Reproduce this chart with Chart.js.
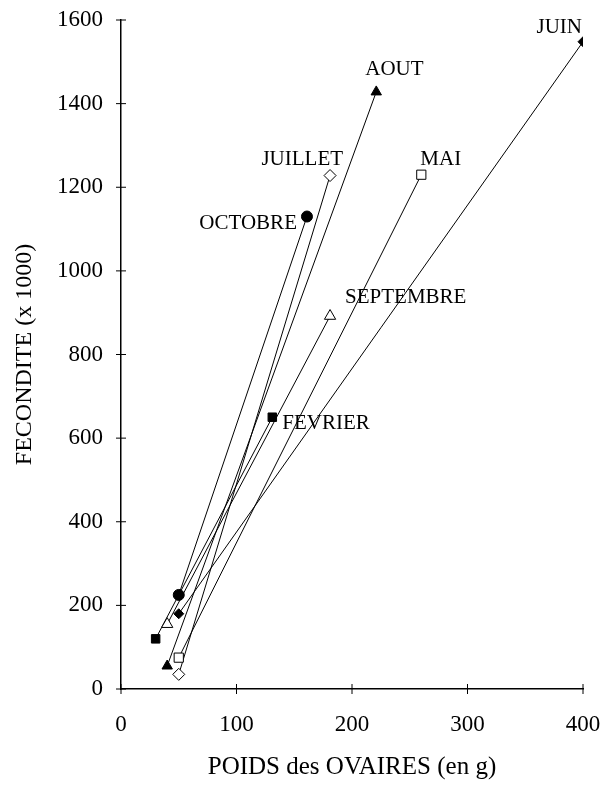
<!DOCTYPE html>
<html>
<head>
<meta charset="utf-8">
<script src="https://cdn.jsdelivr.net/npm/chart.js@4"></script>
<style>
  html, body { margin: 0; padding: 0; background: #fff; }
  #wrap { width: 610px; height: 786px; }
</style>
</head>
<body>
<div id="wrap"><canvas id="fecChart" width="610" height="786"></canvas></div>
<script>
// Fécondité vs poids des ovaires, one segment per month
const months = ['OCTOBRE', 'JUIN', 'SEPTEMBRE', 'FEVRIER', 'MAI', 'AOUT', 'JUILLET']
const poidsMin = [50, 50, 40, 30, 50, 40, 50]
const poidsMax = [161, 400, 181, 131, 260, 221, 181]
const fecMin = [225, 180, 155, 120, 75, 55, 35]
const fecMax = [1130, 1548, 892, 650, 1230, 1428, 1228]
const xTicks = [0, 100, 200, 300, 400]
const yTicks = [0, 200, 400, 600, 800, 1000, 1200, 1400, 1600]

// marker look per month
const markers = [
  { style: 'circle', fill: '#000', r: 5.5 },
  { style: 'rectRot', fill: '#000', r: 5 },
  { style: 'triangle', fill: '#fff', r: 6.5 },
  { style: 'rect', fill: '#000', r: 6 },
  { style: 'rect', fill: '#fff', r: 6.5 },
  { style: 'triangle', fill: '#000', r: 6 },
  { style: 'rectRot', fill: '#fff', r: 6 }
]
// where the month name sits relative to the upper point
const labelPos = [
  { dx: -10, dy: 7, align: 'right' },
  { dx: -1, dy: -14, align: 'right' },
  { dx: 15, dy: -19, align: 'left' },
  { dx: 10, dy: 6, align: 'left' },
  { dx: -1, dy: -15, align: 'left' },
  { dx: -11, dy: -22, align: 'left' },
  { dx: 13, dy: -16, align: 'right' }
]

const serif = "'Liberation Serif', 'Times New Roman', serif"

const datasets = months.map((m, i) => ({
  label: m,
  data: [{ x: poidsMin[i], y: fecMin[i] }, { x: poidsMax[i], y: fecMax[i] }],
  showLine: true,
  borderColor: '#000',
  borderWidth: 1,
  pointStyle: markers[i].style,
  pointRadius: markers[i].r,
  pointBackgroundColor: markers[i].fill,
  pointBorderColor: '#000',
  pointBorderWidth: 1
}))

// month names next to the top point of each segment
const monthLabels = {
  id: 'monthLabels',
  afterDatasetsDraw(chart) {
    const ctx = chart.ctx
    ctx.save()
    ctx.font = '21px ' + serif
    ctx.fillStyle = '#000'
    ctx.textBaseline = 'middle'
    chart.data.datasets.forEach((ds, i) => {
      const pt = chart.getDatasetMeta(i).data[1]
      const p = labelPos[i]
      ctx.textAlign = p.align
      ctx.fillText(ds.label, pt.x + p.dx, pt.y + p.dy)
    })
    ctx.restore()
  }
}

// short tick marks crossing the axis lines
const crossTicks = {
  id: 'crossTicks',
  afterDraw(chart) {
    const ctx = chart.ctx
    const xs = chart.scales.x
    const ys = chart.scales.y
    const area = chart.chartArea
    ctx.save()
    ctx.strokeStyle = '#000'
    ctx.lineWidth = 1
    ctx.beginPath()
    yTicks.forEach(v => {
      const py = ys.getPixelForValue(v)
      ctx.moveTo(area.left - 5, py)
      ctx.lineTo(area.left + 5, py)
    })
    xTicks.forEach(v => {
      const px = xs.getPixelForValue(v)
      ctx.moveTo(px, area.bottom - 5)
      ctx.lineTo(px, area.bottom + 5)
    })
    ctx.stroke()
    ctx.restore()
  }
}

// eslint-disable-next-line no-undef
new Chart(document.getElementById('fecChart').getContext('2d'), {
  type: 'scatter',
  data: { datasets },
  plugins: [monthLabels, crossTicks],
  options: {
    responsive: false,
    animation: false,
    layout: { padding: { top: 20, right: 27, left: 0, bottom: 0 } },
    plugins: {
      legend: { display: false },
      tooltip: { enabled: false }
    },
    scales: {
      x: {
        type: 'linear',
        min: 0,
        max: 400,
        afterBuildTicks: s => { s.ticks = xTicks.map(v => ({ value: v })) },
        afterFit: s => {
          s.height = 97
          s.paddingLeft = 0
          s.paddingRight = 0
        },
        grid: { display: true, drawOnChartArea: false, drawTicks: false },
        border: { display: true, color: '#000', width: 1.5 },
        ticks: { color: '#000', padding: 22, callback: v => String(v), font: { family: serif, size: 23 } },
        title: {
          display: true,
          text: 'POIDS des OVAIRES (en g)',
          color: '#000',
          font: { family: serif, size: 25 },
          padding: { top: 9 }
        }
      },
      y: {
        type: 'linear',
        min: 0,
        max: 1600,
        afterBuildTicks: s => { s.ticks = yTicks.map(v => ({ value: v })) },
        afterFit: s => {
          s.width = 121
          s.paddingTop = 0
          s.paddingBottom = 0
        },
        grid: { display: true, drawOnChartArea: false, drawTicks: false },
        border: { display: true, color: '#000', width: 1.5 },
        ticks: { color: '#000', padding: 18, callback: v => String(v), font: { family: serif, size: 23 } },
        title: {
          display: true,
          text: 'FECONDITE (x 1000)',
          color: '#000',
          font: { family: serif, size: 24 },
          padding: { top: 10, bottom: 6 }
        }
      }
    }
  }
})
</script>
</body>
</html>
